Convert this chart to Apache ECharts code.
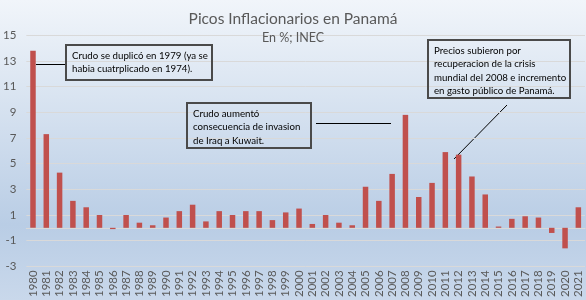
<!DOCTYPE html>
<html>
<head>
<meta charset="utf-8">
<script src="https://cdn.jsdelivr.net/npm/echarts@6/dist/echarts.min.js"></script>
<style>
html, body { margin: 0; padding: 0; }
#chart { width: 586px; height: 300px; }
</style>
</head>
<body>
<div id="chart"></div>
<script>
// datos de inflacion anual (%), INEC
var years = ['1980','1981','1982','1983','1984','1985','1986','1987','1988','1989',
	'1990','1991','1992','1993','1994','1995','1996','1997','1998','1999',
	'2000','2001','2002','2003','2004','2005','2006','2007','2008','2009',
	'2010','2011','2012','2013','2014','2015','2016','2017','2018','2019',
	'2020','2021'];
var inflacion = [13.8, 7.3, 4.3, 2.1, 1.6, 1.0, -0.1, 1.0, 0.4, 0.2,
	0.8, 1.3, 1.8, 0.5, 1.3, 1.0, 1.3, 1.3, 0.6, 1.2,
	1.5, 0.3, 1.0, 0.4, 0.2, 3.2, 2.1, 4.2, 8.8, 2.4,
	3.5, 5.9, 5.7, 4.0, 2.6, 0.1, 0.7, 0.9, 0.8, -0.4,
	-1.6, 1.6];
var yTicks = { min: -3, max: 15, step: 2 };

var notas = [
	'Crudo se duplicó en 1979 (ya se\nhabia cuatrplicado en 1974).',
	'Crudo aumentó\nconsecuencia de invasion\nde Iraq a Kuwait.',
	'Precios subieron por\nrecuperacion de la crisis\nmundial del 2008 e incremento\nen gasto público de Panamá.'
];

window.onload = function() {
	drawChart();
}

// cuadro de texto con borde
function nota(x, y, w, h, txt) {
	return {
		type: 'text', x: x, y: y, z: 10,
		style: {
			text: txt, fill: '#000', fontFamily: 'Lato', fontSize: 9.7, lineHeight: 13.5,
			align: 'left', verticalAlign: 'top',
			width: w, height: h, padding: [4, 6, 4, 6],
			borderColor: '#4a4a4a', borderWidth: 1, backgroundColor: 'rgba(255,255,255,0)'
		}
	};
}

function drawChart() {
	var myChart = echarts.init(document.getElementById('chart'));

	var graficos = [
		nota(66, 45, 134, 27, notas[0]),
		nota(187, 103, 112, 37, notas[1]),
		nota(428, 40, 130, 50, notas[2]),
		{ type: 'line', shape: { x1: 36, y1: 64.5, x2: 66, y2: 64.5 }, style: { stroke: '#000', lineWidth: 1 } },
		{ type: 'line', shape: { x1: 316, y1: 123.5, x2: 391, y2: 123.5 }, style: { stroke: '#000', lineWidth: 1 } },
		{ type: 'line', shape: { x1: 507, y1: 105, x2: 454, y2: 159 }, style: { stroke: '#000', lineWidth: 1 } }
	];

	var option = {
		backgroundColor: {
			type: 'linear', x: 0, y: 0, x2: 0, y2: 1,
			colorStops: [
				{ offset: 0, color: '#f1f5fa' },
				{ offset: 0.75, color: '#b9cde5' },
				{ offset: 1, color: '#c9d8eb' }
			]
		},
		title: {
			text: 'Picos Inflacionarios en Panamá',
			subtext: 'En %; INEC',
			left: 'center',
			top: 6,
			itemGap: 4,
			textStyle: { fontFamily: 'Lato', fontSize: 15.5, fontWeight: 'normal', color: '#595959' },
			subtextStyle: { fontFamily: 'Lato', fontSize: 12.5, color: '#595959' }
		},
		grid: { left: 24, right: 1, top: 35.3, bottom: 9 },
		xAxis: {
			type: 'category',
			data: years,
			axisTick: { show: false },
			axisLine: { onZero: true, lineStyle: { color: '#d9d9d9', width: 1 } },
			axisLabel: { rotate: 90, margin: 4, interval: 0, color: '#595959', fontFamily: 'Lato', fontSize: 11.5 }
		},
		yAxis: {
			type: 'value',
			min: yTicks.min,
			max: yTicks.max,
			interval: yTicks.step,
			axisLine: { show: false },
			axisTick: { show: false },
			axisLabel: { margin: 10, color: '#595959', fontFamily: 'Lato', fontSize: 11.5 },
			splitLine: { lineStyle: { color: '#d9d9d9', width: 1 } }
		},
		series: [{
			type: 'bar',
			data: inflacion,
			barWidth: 5.5,
			itemStyle: { color: '#c0504d' }
		}],
		graphic: graficos
	};

	myChart.setOption(option);
}
</script>
</body>
</html>
